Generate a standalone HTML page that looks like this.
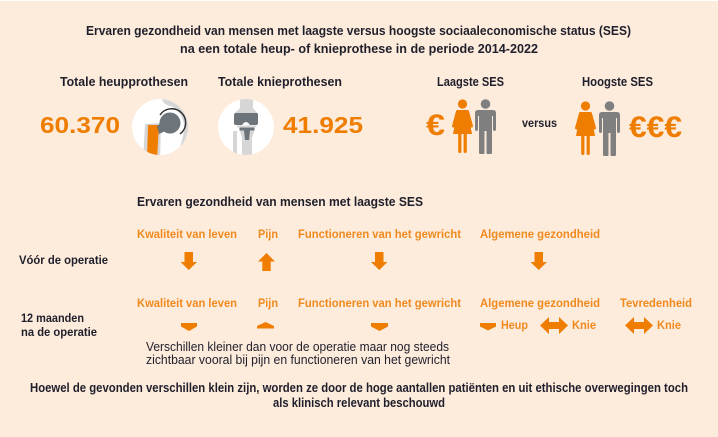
<!DOCTYPE html>
<html>
<head>
<meta charset="utf-8">
<style>
html,body{margin:0;padding:0;background:#fdebdc;}
svg{display:block;}
text{font-family:"Liberation Sans",sans-serif;}
.b{font-weight:bold;}
.dk{fill:#1f1f2b;}
.or{fill:#ef7d00;}
.ol{fill:#f08a1e;}
</style>
</head>
<body>
<svg width="718" height="437" viewBox="0 0 718 437" xmlns="http://www.w3.org/2000/svg">
<rect x="0" y="0" width="718" height="437" fill="#fdebdc"/>
<rect x="0" y="0" width="718" height="1" fill="#ffffff"/>

<!-- Title -->
<text class="b dk" x="86" y="35" font-size="12.5" textLength="545" lengthAdjust="spacingAndGlyphs">Ervaren gezondheid van mensen met laagste versus hoogste sociaaleconomische status (SES)</text>
<text class="b dk" x="180" y="53" font-size="12.5" textLength="358" lengthAdjust="spacingAndGlyphs">na een totale heup- of knieprothese in de periode 2014-2022</text>

<!-- Headers -->
<text class="b dk" x="60" y="86" font-size="12.5" textLength="128" lengthAdjust="spacingAndGlyphs">Totale heupprothesen</text>
<text class="b dk" x="218" y="86" font-size="12.5" textLength="124" lengthAdjust="spacingAndGlyphs">Totale knieprothesen</text>
<text class="b dk" x="437" y="86" font-size="12.5" textLength="67" lengthAdjust="spacingAndGlyphs">Laagste SES</text>
<text class="b dk" x="582" y="86" font-size="12.5" textLength="71" lengthAdjust="spacingAndGlyphs">Hoogste SES</text>

<!-- Big numbers -->
<text class="b or" x="40" y="133" font-size="23" textLength="80" lengthAdjust="spacingAndGlyphs">60.370</text>
<text class="b or" x="283" y="133" font-size="23" textLength="80" lengthAdjust="spacingAndGlyphs">41.925</text>

<!-- Hip icon -->
<defs>
<clipPath id="c1"><circle cx="160" cy="127" r="28"/></clipPath>
<clipPath id="c2"><circle cx="246" cy="127" r="28"/></clipPath>
</defs>
<circle cx="160" cy="127" r="28" fill="#ffffff"/>
<g clip-path="url(#c1)">
  <path d="M162 99 L190 99 L190 160 L178 160 C178 150 183 140 184 130 C185 118 178 108 170 106 C166 105 163 103 162 99 Z" fill="#d6d6d6"/>
  <path d="M145 124 L161 123 L160 160 L143 160 Z" fill="#d6d6d6"/>
  <path d="M148 125 L159 125 L157 160 L147 160 Z" fill="#ef7d00"/>
  <path d="M157 126 L168 118 L172 128 L159 134 Z" fill="#6d747a"/>
  <circle cx="170" cy="123" r="10.5" fill="#6d747a"/>
  <path d="M160 115 A14 14 0 1 1 180 134" fill="none" stroke="#2b2b2b" stroke-width="1.4"/>
</g>

<!-- Knee icon -->
<circle cx="246" cy="127" r="28" fill="#ffffff"/>
<g clip-path="url(#c2)">
  <path d="M240 98 L253 98 L253 108 L258 114 L234 114 L240 108 Z" fill="#d6d6d6"/>
  <path d="M236 113 L257 113 Q258 113 258 115 L258 123 Q258 125 256 125 L250 125 Q248 122 246 122 Q244 122 242 125 L236 125 Q234 125 234 123 L234 115 Q234 113 236 113 Z" fill="#6d747a"/>
  <rect x="237" y="125.5" width="19" height="1.8" fill="#d6d6d6"/>
  <path d="M239 128 L255 128 L252 138 L252 160 L242 160 L242 138 Z" fill="#d6d6d6"/>
  <rect x="233" y="131" width="4" height="30" fill="#d6d6d6"/>
  <path d="M239.5 127.5 L254.5 127.5 L254.5 130.5 L250 130.5 L249 140 L245 140 L244 130.5 L239.5 130.5 Z" fill="#6d747a"/>
</g>

<!-- Euro + figures -->
<text class="b or" x="426" y="135" font-size="30" textLength="19" lengthAdjust="spacingAndGlyphs">€</text>
<g id="pair">
  <!-- woman -->
  <circle cx="462.5" cy="104" r="4.6" fill="#ef7d00"/>
  <path d="M457.5 110 L467.5 110 L472 134 L453 134 Z" fill="#ef7d00"/>
  <line x1="457.5" y1="111.5" x2="453.5" y2="126" stroke="#ef7d00" stroke-width="3" stroke-linecap="round"/>
  <line x1="467.5" y1="111.5" x2="471.5" y2="126" stroke="#ef7d00" stroke-width="3" stroke-linecap="round"/>
  <rect x="458.2" y="132" width="3.2" height="21" rx="1.5" fill="#ef7d00"/>
  <rect x="463.6" y="132" width="3.2" height="21" rx="1.5" fill="#ef7d00"/>
  <!-- man -->
  <circle cx="485.5" cy="104" r="4.8" fill="#7f7f7f"/>
  <path d="M478 110 L493 110 Q496 110 496 113 L496 129 Q496 131 494.5 131 Q493 131 493 129 L493 116 L492 116 L492 153 Q492 154 490 154 L488 154 Q486.5 154 486.5 153 L486.5 131 L484.5 131 L484.5 153 Q484.5 154 483 154 L481 154 Q479 154 479 153 L479 116 L478 116 L478 129 Q478 131 476.5 131 Q475 131 475 129 L475 113 Q475 110 478 110 Z" fill="#7f7f7f"/>
</g>
<text class="b dk" x="522" y="127" font-size="11.5" textLength="35" lengthAdjust="spacingAndGlyphs">versus</text>
<g transform="translate(123,2)">
  <circle cx="462.5" cy="104" r="4.6" fill="#ef7d00"/>
  <path d="M457.5 110 L467.5 110 L472 134 L453 134 Z" fill="#ef7d00"/>
  <line x1="457.5" y1="111.5" x2="453.5" y2="126" stroke="#ef7d00" stroke-width="3" stroke-linecap="round"/>
  <line x1="467.5" y1="111.5" x2="471.5" y2="126" stroke="#ef7d00" stroke-width="3" stroke-linecap="round"/>
  <rect x="458.2" y="132" width="3.2" height="21" rx="1.5" fill="#ef7d00"/>
  <rect x="463.6" y="132" width="3.2" height="21" rx="1.5" fill="#ef7d00"/>
  <circle cx="486.5" cy="104" r="4.8" fill="#7f7f7f"/>
  <path d="M479 110 L494 110 Q497 110 497 113 L497 129 Q497 131 495.5 131 Q494 131 494 129 L494 116 L493 116 L493 153 Q493 154 491 154 L489 154 Q487.5 154 487.5 153 L487.5 131 L485.5 131 L485.5 153 Q485.5 154 484 154 L482 154 Q480 154 480 153 L480 116 L479 116 L479 129 Q479 131 477.5 131 Q476 131 476 129 L476 113 Q476 110 479 110 Z" fill="#7f7f7f"/>
</g>
<text class="b or" x="629" y="137" font-size="30" textLength="53" lengthAdjust="spacingAndGlyphs">€€€</text>

<!-- Section heading -->
<text class="b dk" x="137" y="206" font-size="12.5" textLength="286" lengthAdjust="spacingAndGlyphs">Ervaren gezondheid van mensen met laagste SES</text>

<!-- Row 1 labels -->
<text class="b ol" x="137" y="238" font-size="11.5" textLength="100" lengthAdjust="spacingAndGlyphs">Kwaliteit van leven</text>
<text class="b ol" x="258" y="238" font-size="11.5" textLength="20" lengthAdjust="spacingAndGlyphs">Pijn</text>
<text class="b ol" x="298" y="238" font-size="11.5" textLength="163" lengthAdjust="spacingAndGlyphs">Functioneren van het gewricht</text>
<text class="b ol" x="480" y="238" font-size="11.5" textLength="120" lengthAdjust="spacingAndGlyphs">Algemene gezondheid</text>

<text class="b dk" x="19" y="264" font-size="11.5" textLength="89" lengthAdjust="spacingAndGlyphs">Vóór de operatie</text>

<!-- Row 1 arrows -->
<polygon points="184.5,252 193,252 193,262 197,262 188.75,270 180.5,262 184.5,262" fill="#ef7d00"/>
<polygon points="266.5,253 275,261.5 270.7,261.5 270.7,271 262.3,271 262.3,261.5 258,261.5" fill="#ef7d00"/>
<polygon points="375,252 383.5,252 383.5,262 387.5,262 379.25,270 371,262 375,262" fill="#ef7d00"/>
<polygon points="534.5,252 543,252 543,262 547,262 538.75,270 530.5,262 534.5,262" fill="#ef7d00"/>

<!-- Row 2 labels -->
<text class="b ol" x="137" y="307" font-size="11.5" textLength="100" lengthAdjust="spacingAndGlyphs">Kwaliteit van leven</text>
<text class="b ol" x="258" y="307" font-size="11.5" textLength="20" lengthAdjust="spacingAndGlyphs">Pijn</text>
<text class="b ol" x="298" y="307" font-size="11.5" textLength="163" lengthAdjust="spacingAndGlyphs">Functioneren van het gewricht</text>
<text class="b ol" x="480" y="307" font-size="11.5" textLength="120" lengthAdjust="spacingAndGlyphs">Algemene gezondheid</text>
<text class="b ol" x="620" y="307" font-size="11.5" textLength="72" lengthAdjust="spacingAndGlyphs">Tevredenheid</text>

<text class="b dk" x="21" y="322" font-size="11.5" textLength="63" lengthAdjust="spacingAndGlyphs">12 maanden</text>
<text class="b dk" x="21" y="336" font-size="11.5" textLength="76" lengthAdjust="spacingAndGlyphs">na de operatie</text>

<!-- Row 2 arrows -->
<polygon points="181,323 197,323 197,326.5 189,331 181,326.5" fill="#ef7d00"/>
<polygon points="265.5,322 274,326 274,328.5 257,328.5 257,326" fill="#ef7d00"/>
<polygon points="371,323 388,323 388,326.5 379.5,331 371,326.5" fill="#ef7d00"/>
<polygon points="480,323 496,323 496,326.5 488,330.5 480,326.5" fill="#ef7d00"/>
<text class="b ol" x="501" y="329" font-size="11.5" textLength="27" lengthAdjust="spacingAndGlyphs">Heup</text>
<polygon points="540,325.5 549,317 549,322 559,322 559,317 568,325.5 559,334 559,329 549,329 549,334" fill="#ef7d00"/>
<text class="b ol" x="572" y="329" font-size="11.5" textLength="24" lengthAdjust="spacingAndGlyphs">Knie</text>
<polygon points="625,325.5 634,317 634,322 644,322 644,317 653,325.5 644,334 644,329 634,329 634,334" fill="#ef7d00"/>
<text class="b ol" x="657" y="329" font-size="11.5" textLength="24" lengthAdjust="spacingAndGlyphs">Knie</text>

<!-- Note -->
<text class="dk" x="146" y="351" font-size="12.5" textLength="303" lengthAdjust="spacingAndGlyphs">Verschillen kleiner dan voor de operatie maar nog steeds</text>
<text class="dk" x="146" y="364" font-size="12.5" textLength="304" lengthAdjust="spacingAndGlyphs">zichtbaar vooral bij pijn en functioneren van het gewricht</text>

<!-- Bottom -->
<text class="b dk" x="30" y="392" font-size="12.5" textLength="658" lengthAdjust="spacingAndGlyphs">Hoewel de gevonden verschillen klein zijn, worden ze door de hoge aantallen patiënten en uit ethische overwegingen toch</text>
<text class="b dk" x="273" y="407" font-size="12.5" textLength="172" lengthAdjust="spacingAndGlyphs">als klinisch relevant beschouwd</text>
</svg>
</body>
</html>
